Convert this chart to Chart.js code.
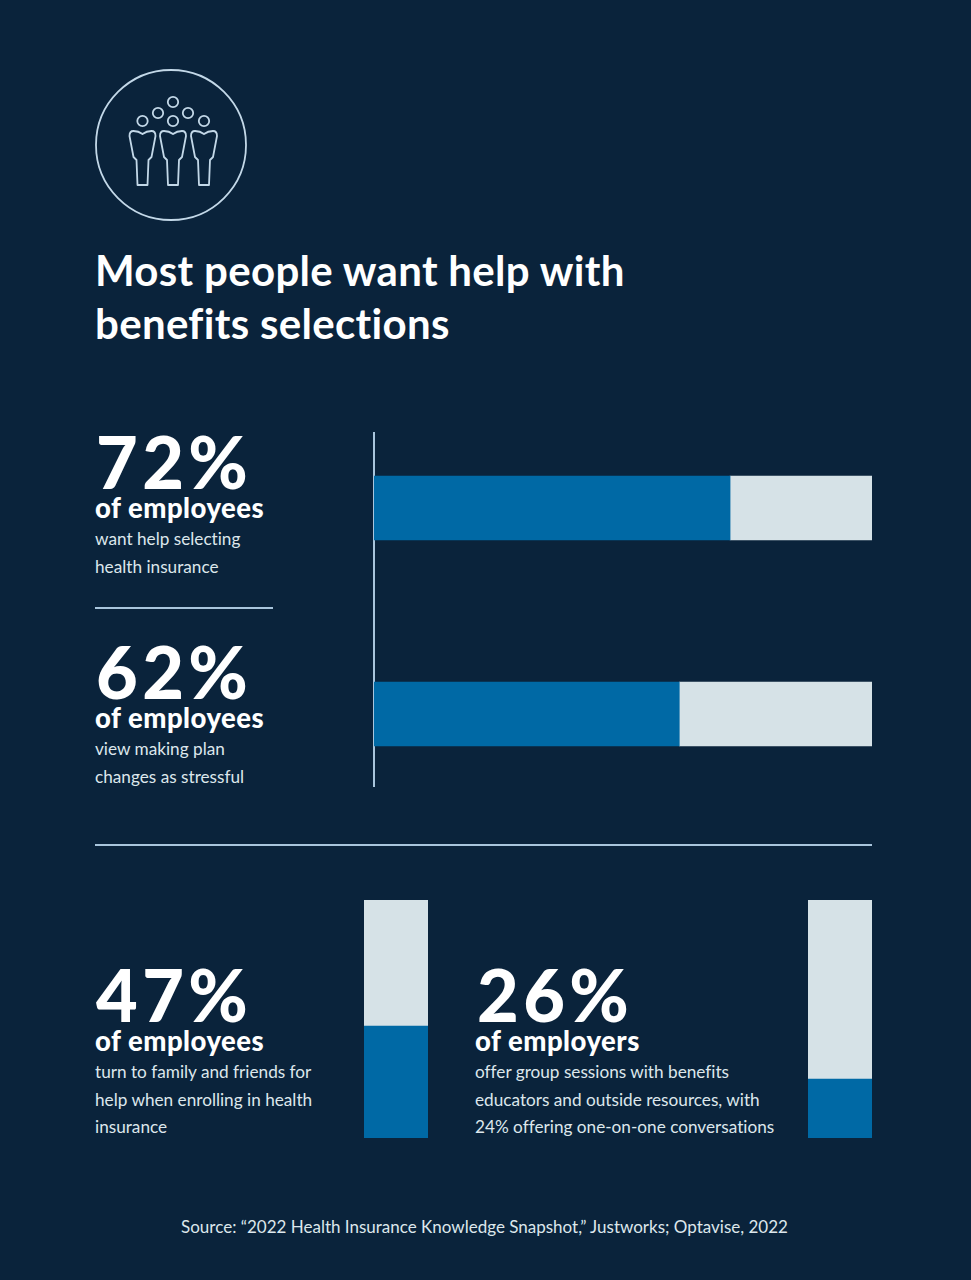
<!DOCTYPE html>
<html>
<head>
<meta charset="utf-8">
<title>Most people want help with benefits selections</title>
<script src="https://cdn.jsdelivr.net/npm/chart.js@4"></script>
<style>
html, body { margin: 0; padding: 0; background: #0a233b; }
#page { position: relative; width: 971px; height: 1280px; overflow: hidden; background: #0a233b; font-family: Lato, sans-serif; color: #fff; font-variant-ligatures: none; }
#page > * { position: absolute; }
canvas { display: block; }
.title { left: 95px; top: 244px; font-size: 42px; line-height: 53px; font-weight: 700; white-space: nowrap; letter-spacing: 0.32px; }
.big { font-size: 72px; line-height: 60px; font-weight: 900; white-space: nowrap; letter-spacing: 4.4px; }
.who { font-size: 27.5px; line-height: 26px; font-weight: 900; white-space: nowrap; letter-spacing: 0.5px; }
.desc { font-size: 17.2px; line-height: 27.5px; color: #dde7ec; white-space: nowrap; }
.rule { background: #a9c5dc; }
.source { left: -1px; width: 971px; top: 1216px; text-align: center; font-size: 17px; line-height: 22px; color: #dde7ec; }
</style>
</head>
<body>
<div id="page">
  <svg style="left:90px;top:64px" width="162" height="162" viewBox="90 64 162 162" fill="none" stroke="#c3d8e8" stroke-width="1.8">
    <defs>
      <path id="body" stroke-linejoin="round" d="M-9 131 Q-4 131 0 134 Q4 131 9 131 Q13 131 13 136 L9 157 L6 160 L5 185 L-5 185 L-6 160 L-9 157 L-13 136 Q-13 131 -9 131 Z"/>
    </defs>
    <circle cx="171" cy="145" r="75"/>
    <circle cx="173" cy="102" r="5.2"/><circle cx="158" cy="113" r="5.2"/><circle cx="188" cy="113" r="5.2"/>
    <circle cx="142.500" cy="121" r="5.2"/><circle cx="173" cy="121" r="5.2"/><circle cx="204" cy="121" r="5.2"/>
    <use href="#body" x="142.500"/><use href="#body" x="173"/><use href="#body" x="204"/>
  </svg>

  <div class="title">Most people want help with<br>benefits selections</div>

  <div class="big" style="left:96px;top:431px">72%</div>
  <div class="who" style="left:95px;top:495px">of employees</div>
  <div class="desc" style="left:95px;top:525px">want help selecting<br>health insurance</div>
  <div class="rule" style="left:95px;top:607px;width:178px;height:2px"></div>

  <div class="big" style="left:96px;top:641px">62%</div>
  <div class="who" style="left:95px;top:705px">of employees</div>
  <div class="desc" style="left:95px;top:735px">view making plan<br>changes as stressful</div>

  <div class="rule" style="left:373px;top:432px;width:2px;height:355px"></div>
  <canvas id="topChart" style="left:374px;top:405px"></canvas>

  <div class="rule" style="left:95px;top:844px;width:777px;height:2px"></div>

  <div class="big" style="left:96px;top:964px">47%</div>
  <div class="who" style="left:95px;top:1028px">of employees</div>
  <div class="desc" style="left:95px;top:1058px">turn to family and friends for<br>help when enrolling in health<br>insurance</div>
  <canvas id="leftChart" style="left:364px;top:900px"></canvas>

  <div class="big" style="left:477px;top:964px">26%</div>
  <div class="who" style="left:475px;top:1028px">of employers</div>
  <div class="desc" style="left:475px;top:1058px">offer group sessions with benefits<br>educators and outside resources, with<br>24% offering one-on-one conversations</div>
  <canvas id="rightChart" style="left:808px;top:900px"></canvas>

  <div class="source">Source: “2022 Health Insurance Knowledge Snapshot,” Justworks; Optavise, 2022</div>
</div>

<script>
const topCategories = ["want help selecting health insurance", "view making plan changes as stressful"];
const topShare = [71.5, 61.3];
const topRest = [28.5, 38.7];

const leftCategory = ["turn to family and friends for help"];
const leftShare = [47];
const leftRest = [53];

const rightCategory = ["offer group sessions"];
const rightShare = [24.8];
const rightRest = [75.2];

const BLUE = "#0069a5";
const LIGHT = "#d6e2e7";

function drawBars(id, width, height, horizontal, labels, share, rest, thickness) {
    const canvas = document.getElementById(id);
    canvas.width = width;
    canvas.height = height;
    canvas.style.width = width + "px";
    canvas.style.height = height + "px";
    const valueScale = { display: false, stacked: true, min: 0, max: 100 };
    const catScale = { display: false, stacked: true };
    return new Chart(canvas, {
        type: "bar",
        data: {
            labels: labels,
            datasets: [
                { label: "share", data: share, backgroundColor: BLUE, barThickness: thickness },
                { label: "rest", data: rest, backgroundColor: LIGHT, barThickness: thickness }
            ]
        },
        options: {
            indexAxis: horizontal ? "y" : "x",
            responsive: false,
            animation: false,
            layout: { padding: 0 },
            plugins: { legend: { display: false }, tooltip: { enabled: false } },
            scales: horizontal ? { x: valueScale, y: catScale } : { x: catScale, y: valueScale }
        }
    });
}

drawBars("topChart", 498, 412, true, topCategories, topShare, topRest, 64);
drawBars("leftChart", 64, 238, false, leftCategory, leftShare, leftRest, 64);
drawBars("rightChart", 64, 238, false, rightCategory, rightShare, rightRest, 64);
</script>
</body>
</html>
